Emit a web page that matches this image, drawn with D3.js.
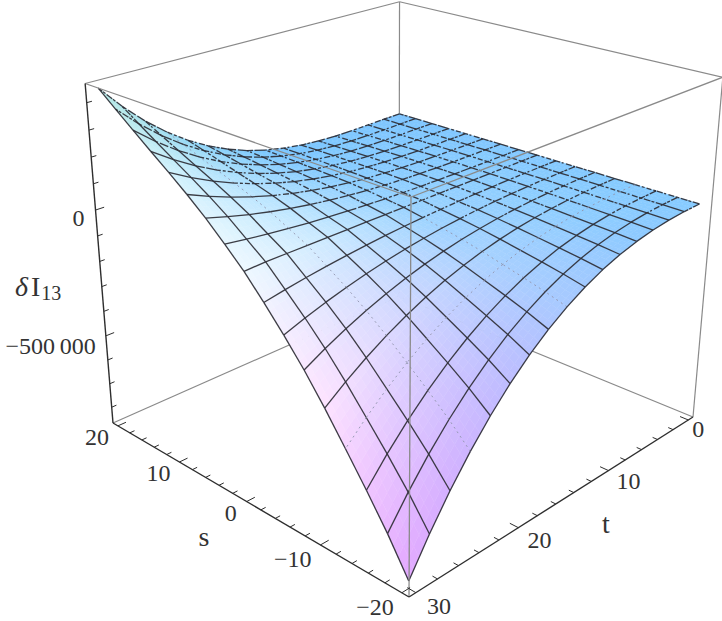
<!DOCTYPE html>
<html>
<head>
<meta charset="utf-8">
<script src="https://cdn.jsdelivr.net/npm/d3@7"></script>
<style>
  html, body { margin: 0; background: #fff; }
  svg { display: block; }
  text { font-family: "Liberation Serif", serif; fill: #333; }
</style>
</head>
<body>
<svg id="chart" width="722" height="621"></svg>
<script>
// Mesh node coordinates
const tNodes = d3.range(17).map(i => i * 30 / 16);
const sNodes = d3.range(17).map(j => -20 + j * 2.5);

// δI13 in thousands: one row per t node, one column per s node (s = -20 ... 20)
const row00 = [0, 0, 0, 0, 0, 0, 0, 0, 0, 0, 0, 0, 0, 0, 0, 0, 0];
const row01 = [-1.8, -1.4, -1.1, -0.9, -0.6, -0.4, -0.3, -0.1, 0, -0.1, -0.1, -0.2, -0.4, -0.6, -0.8, -1.0, -1.3];
const row02 = [-6.8, -5.6, -4.5, -3.5, -2.5, -1.7, -1.0, -0.6, -0.1, -0.2, -0.2, -0.5, -0.9, -1.4, -2.0, -2.6, -3.4];
const row03 = [-15.8, -13, -10.5, -8.3, -6, -4.1, -2.6, -1.4, -0.3, -0.1, 0, -0.3, -0.9, -1.8, -2.6, -3.6, -4.9];
const row04 = [-29.6, -24.4, -19.9, -15.7, -11.6, -8, -5, -2.7, -0.4, 0.2, 0.8, 0.7, 0.1, -0.9, -1.9, -3.1, -4.7];
const row05 = [-48.8, -40.4, -33.1, -26.2, -19.5, -13.5, -8.6, -4.6, -0.7, 0.8, 2.3, 2.8, 2.5, 1.7, 0.8, -0.3, -1.9];
const row06 = [-74.3, -61.7, -50.7, -40.4, -30.2, -21.1, -13.5, -7.2, -0.9, 1.9, 4.9, 6.4, 6.8, 6.6, 6.3, 5.8, 4.6];
const row07 = [-106.9, -89, -73.3, -58.5, -44, -31, -19.9, -10.5, -1.2, 3.7, 8.6, 11.7, 13.4, 14.3, 15.2, 15.8, 15.6];
const row08 = [-147.3, -122.9, -101.4, -81.2, -61.4, -43.4, -27.9, -14.6, -1.5, 6, 13.7, 19, 22.7, 25.3, 28, 30.4, 31.9];
const row09 = [-196.2, -164, -135.6, -108.8, -82.5, -58.6, -37.9, -19.8, -1.8, 9.2, 20.3, 28.7, 35, 40.2, 45.4, 50.4, 54.4];
const row10 = [-254.5, -213.1, -176.5, -141.9, -107.9, -77, -49.8, -25.9, -2.2, 13.2, 28.8, 40.9, 50.8, 59.3, 68, 76.5, 84.1];
const row11 = [-322.7, -270.6, -224.4, -180.8, -137.8, -98.6, -64, -33.1, -2.6, 18.1, 39.1, 56.1, 70.4, 83.2, 96.2, 109.2, 121.3];
const row12 = [-401.8, -337.3, -280.1, -225.9, -172.7, -123.9, -80.6, -41.6, -3, 24, 51.6, 74.3, 94.1, 112.3, 130.7, 149.3, 167.2];
const row13 = [-492.4, -413.9, -344.1, -277.9, -212.9, -153, -99.7, -51.3, -3.5, 31.2, 66.3, 96, 122.5, 147.1, 172.3, 197.7, 222.6];
const row14 = [-595.1, -500.7, -416.7, -336.9, -258.6, -186.3, -121.5, -62.4, -4, 39.4, 83.5, 121.3, 155.6, 188.1, 221.1, 254.5, 287.9];
const row15 = [-710.8, -598.6, -498.4, -403.5, -310.2, -223.8, -146.2, -74.9, -4.5, 49, 103.4, 150.6, 194, 235.5, 277.8, 320.8, 364.2];
const row16 = [-840, -708, -590, -478, -368, -266, -174, -89, -8, 60, 126, 184, 238, 290, 343, 397, 452];
const surface = [row00, row01, row02, row03, row04, row05, row06, row07, row08,
                 row09, row10, row11, row12, row13, row14, row15, row16];

// Surface colours sampled at t = 0, 7.5, 15, 22.5, 30 and s = -20, -10, 0, 10, 20
const shade0 = ["#86cbff", "#84caff", "#82c8ff", "#80c7ff", "#7ec5ff"];
const shade1 = ["#8fcaff", "#8fceff", "#8dcdff", "#85caff", "#7dc7ff"];
const shade2 = ["#a8c9ff", "#a6d2ff", "#9ad3ff", "#88ccff", "#79c5ff"];
const shade3 = ["#c6b8ff", "#d2d6ff", "#cbeaff", "#acdfff", "#92d6f6"];
const shade4 = ["#e2a8ff", "#fde2ff", "#eef8ff", "#d2f2fd", "#b4e8e4"];
const shades = [shade0, shade1, shade2, shade3, shade4];

// Tick values
const sMajor = [-20, -10, 0, 10, 20];
const sMinor = d3.range(-20, 21, 2).filter(v => !sMajor.includes(v));
const tMajor = [0, 10, 20, 30];
const tMinor = d3.range(0, 31, 2).filter(v => !tMajor.includes(v));
const zMajor = [-500000, 0];
const zMinor = d3.range(-800000, 400001, 100000).filter(v => !zMajor.includes(v));

// Scales from data to the unit cube: u grows towards t = 0, v towards s = 20
const uScale = d3.scaleLinear().domain([30, 0]).range([0.02, 0.98]);
const vScale = d3.scaleLinear().domain([-20, 20]).range([0.02, 0.98]);
const wScale = d3.scaleLinear().domain([-868000, 469000]).range([0, 1]);

// Perspective camera: image of the front-bottom corner and of the three edges leaving it
const O = [409, 597], X = [693, 417], Y = [113, 423], Z = [411, 197];
const persp = { u: 0.216, v: 0.215, w: -0.11 };

function project(u, v, w) {
  const d = 1 + persp.u * u + persp.v * v + persp.w * w;
  const a = (1 + persp.u) * u, b = (1 + persp.v) * v, c = (1 + persp.w) * w;
  return [0, 1].map(k =>
    O[k] + ((X[k] - O[k]) * a + (Y[k] - O[k]) * b + (Z[k] - O[k]) * c) / d);
}
const line = d3.line();
const svg = d3.select("#chart");

// Box edges behind the surface
const back = svg.append("g").attr("fill", "none").attr("stroke", "#8a8a8a").attr("stroke-width", 1.2);
function edge(g, a, b) { g.append("path").attr("d", line([project(...a), project(...b)])); }
edge(back, [0, 1, 1], [1, 1, 1]);
edge(back, [1, 0, 1], [1, 1, 1]);
edge(back, [1, 1, 0], [1, 1, 1]);
edge(back, [0, 1, 0], [1, 1, 0]);
edge(back, [1, 0, 0], [1, 1, 0]);
edge(back, [1, 0, 0], [1, 0, 1]);

// Node position in the cube for fractional mesh indices
function cubePoint(fi, fj) {
  const i0 = Math.min(Math.floor(fi), 15), j0 = Math.min(Math.floor(fj), 15);
  const a = fi - i0, b = fj - j0;
  const k = (1 - a) * ((1 - b) * surface[i0][j0] + b * surface[i0][j0 + 1]) +
            a * ((1 - b) * surface[i0 + 1][j0] + b * surface[i0 + 1][j0 + 1]);
  return [
    uScale(d3.interpolate(tNodes[i0], tNodes[i0 + 1])(a)),
    vScale(d3.interpolate(sNodes[j0], sNodes[j0 + 1])(b)),
    wScale(k * 1000)
  ];
}

function shadeAt(fi, fj) {
  const r = Math.min(fi / 4, 3.9999), c = Math.min(fj / 4, 3.9999);
  const r0 = Math.floor(r), c0 = Math.floor(c);
  const top = d3.interpolateRgb(shades[r0][c0], shades[r0][c0 + 1])(c - c0);
  const bot = d3.interpolateRgb(shades[r0 + 1][c0], shades[r0 + 1][c0 + 1])(c - c0);
  return d3.interpolateRgb(top, bot)(r - r0);
}

// Painter's order: back corner (t = 0, s = 20) first, front corner last
const fills = svg.append("g");
const SUB = 4;
for (let i = 0; i < 16; i++) {
  for (let j = 15; j >= 0; j--) {
    for (let a = 0; a < SUB; a++) for (let b = 0; b < SUB; b++) {
      const fi0 = i + a / SUB, fi1 = i + (a + 1) / SUB;
      const fj0 = j + b / SUB, fj1 = j + (b + 1) / SUB;
      const quad = [[fi0, fj0], [fi1, fj0], [fi1, fj1], [fi0, fj1]]
        .map(q => project(...cubePoint(q[0], q[1])));
      const col = shadeAt((fi0 + fi1) / 2, (fj0 + fj1) / 2);
      fills.append("path").attr("d", line(quad) + "Z")
        .attr("fill", col).attr("stroke", col).attr("stroke-width", 0.5);
    }
  }
}

// Mesh lines: a few fade out, and those over the flat far part of the surface break up
const breaks = ["7 1.5 3 1", "3 2 5 2", "9 2", "2 1.5 6 2.5", "11 1.5"];
const meshG = svg.append("g").attr("fill", "none");
function segment(pa, pb, faint, broken, seed) {
  const p = meshG.append("path").attr("d", line([pa, pb]));
  if (faint) {
    p.attr("stroke", "#8f93ad").attr("stroke-width", 0.9).attr("stroke-dasharray", "2 3.5");
  } else {
    p.attr("stroke", "#2c2c34").attr("stroke-width", 1.3).attr("stroke-opacity", 0.92);
    if (broken) p.attr("stroke-dasharray", breaks[seed % breaks.length]);
  }
}
const node = (i, j) => project(...cubePoint(i, j));
const isBroken = (i, j) => (16 - i) + j >= 16;
d3.range(17).forEach(i => d3.range(16).forEach(j => {
  const faint = i === 13 || (i === 8 && j < 7);
  segment(node(i, j), node(i, j + 1), faint, isBroken(i, j), i * 7 + j * 3);
}));
d3.range(17).forEach(j => d3.range(16).forEach(i => {
  const faint = j === 3;
  segment(node(i, j), node(i + 1, j), faint, isBroken(i, j), i * 3 + j * 5);
}));

// Box edges in front of the surface
const front = svg.append("g").attr("fill", "none").attr("stroke", "#8a8a8a").attr("stroke-width", 1.3);
edge(front, [0, 0, 1], [0, 1, 1]);
edge(front, [0, 0, 1], [1, 0, 1]);
edge(front, [0, 0, 0], [0, 0, 1]);

// Axes
const axes = svg.append("g").attr("fill", "none").attr("stroke", "#2e2e2e").attr("stroke-width", 1.4);
edge(axes, [0, 0, 0], [0, 1, 0]);
edge(axes, [0, 0, 0], [1, 0, 0]);
edge(axes, [0, 1, 0], [0, 1, 1]);

const tickG = svg.append("g").attr("fill", "none").attr("stroke", "#2e2e2e").attr("stroke-width", 1);
const majorLen = 0.024, minorLen = 0.014;
sMajor.forEach(v => edge(tickG, [0, vScale(v), 0], [majorLen, vScale(v), 0]));
sMinor.forEach(v => edge(tickG, [0, vScale(v), 0], [minorLen, vScale(v), 0]));
tMajor.forEach(v => edge(tickG, [uScale(v), 0, 0], [uScale(v), majorLen, 0]));
tMinor.forEach(v => edge(tickG, [uScale(v), 0, 0], [uScale(v), minorLen, 0]));
zMajor.forEach(v => edge(tickG, [0, 1, wScale(v)], [majorLen, 1, wScale(v)]));
zMinor.forEach(v => edge(tickG, [0, 1, wScale(v)], [minorLen, 1, wScale(v)]));

// Tick labels
const tickFont = 24;
const minus = v => (v < 0 ? "\u2212" + Math.abs(v) : String(v));
function label(x, y, str, anchor, size) {
  return svg.append("text").attr("x", x).attr("y", y).attr("text-anchor", anchor || "middle")
    .attr("font-size", size || tickFont).text(str);
}
const sNudge = { "-20": [3, 1], "-10": [2, 1], "0": [1, -2], "10": [2, -2], "20": [2, -2] };
sMajor.forEach(v => {
  const p = project(0, vScale(v), 0), n = sNudge[v];
  label(p[0] - 11 + n[0], p[1] + 21 + n[1], minus(v), "end");
});
const tNudge = { "0": [-8, -4], "10": [-4, -3], "20": [-3, -1], "30": [-1, 0] };
tMajor.forEach(v => {
  const p = project(uScale(v), 0, 0), n = tNudge[v];
  label(p[0] + 12 + n[0], p[1] + 21 + n[1], minus(v), "start");
});
{
  const p0 = project(0, 1, wScale(0));
  label(p0[0] - 11, p0[1] + 16, "0", "end");
  const p1 = project(0, 1, wScale(-500000));
  label(p1[0] - 10, p1[1] + 18, "\u2212500\u2009000", "end");
}

// Axis titles
label(204, 546, "s", "middle", 28);
label(606, 533, "t", "middle", 28);
const title = svg.append("text").attr("x", 15).attr("y", 296).attr("font-size", 28);
title.append("tspan").attr("font-style", "italic").text("\u03b4");
title.append("tspan").attr("dx", 3).text("I");
title.append("tspan").attr("font-size", 20).attr("dy", 4).attr("dx", 1).text("13");
</script>
</body>
</html>
